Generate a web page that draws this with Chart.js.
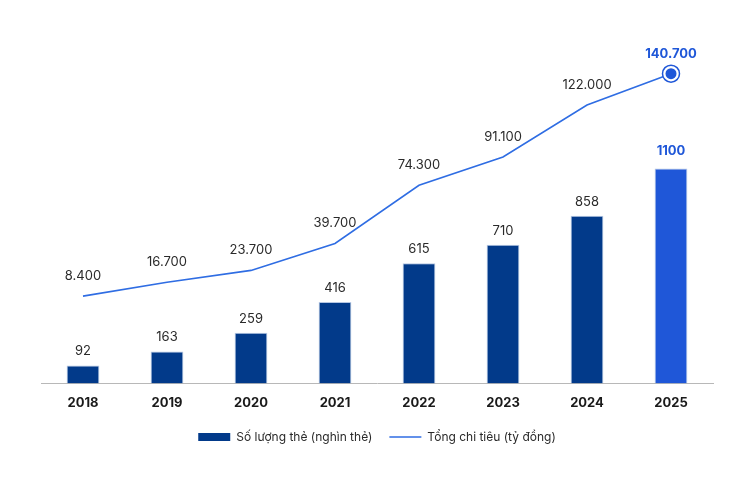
<!DOCTYPE html>
<html>
<head>
<meta charset="utf-8">
<script src="https://cdn.jsdelivr.net/npm/chart.js@4.4.1/dist/chart.umd.min.js"></script>
<style>
  html, body { margin: 0; padding: 0; background: #fff; }
  #wrap { width: 752px; height: 477px; }
</style>
</head>
<body>
<div id="wrap"><canvas id="chart"></canvas></div>
<script>
const years = ['2018', '2019', '2020', '2021', '2022', '2023', '2024', '2025'];
const cardCounts = [92, 163, 259, 416, 615, 710, 858, 1100];
const spending = [8.4, 16.7, 23.7, 39.7, 74.3, 91.1, 122, 140.7];

const NAVY = '#023a8a';
const BLUE = '#1f57d8';
const LINE = '#2f6de3';
const FONT = 'Inter, "Noto Sans", sans-serif';

// 8.4 -> "8.400", 140.7 -> "140.700"
function fmt(v) {
  return String(Math.round(v * 1000)).replace(/\B(?=(\d{3})+(?!\d))/g, '.');
}

const valueLabels = {
  id: 'valueLabels',
  afterDatasetsDraw(chart) {
    const ctx = chart.ctx;
    ctx.save();
    ctx.textAlign = 'center';
    ctx.textBaseline = 'middle';
    const last = years.length - 1;

    const bars = chart.getDatasetMeta(0).data;
    bars.forEach((el, i) => {
      const hi = i === last;
      ctx.font = (hi ? 'bold ' : '') + '13px ' + FONT;
      ctx.fillStyle = hi ? BLUE : '#2a2a2a';
      ctx.fillText(String(cardCounts[i]), el.x, el.y - (hi ? 17 : 14));
    });

    const pts = chart.getDatasetMeta(1).data;
    pts.forEach((el, i) => {
      const hi = i === last;
      ctx.font = (hi ? 'bold ' : '') + '13px ' + FONT;
      ctx.fillStyle = hi ? BLUE : '#2a2a2a';
      ctx.fillText(fmt(spending[i]), el.x, el.y - 20);
    });

    // highlighted end point
    const p = pts[last];
    ctx.beginPath();
    ctx.arc(p.x, p.y, 8.5, 0, Math.PI * 2);
    ctx.fillStyle = '#fff';
    ctx.fill();
    ctx.lineWidth = 1.5;
    ctx.strokeStyle = BLUE;
    ctx.stroke();
    ctx.beginPath();
    ctx.arc(p.x, p.y, 5.5, 0, Math.PI * 2);
    ctx.fillStyle = BLUE;
    ctx.fill();
    ctx.restore();
  }
};

new Chart(document.getElementById('chart'), {
  type: 'bar',
  data: {
    labels: years,
    datasets: [{
      label: 'Số lượng thẻ (nghìn thẻ)',
      data: cardCounts,
      backgroundColor: cardCounts.map((v, i) => i === years.length - 1 ? BLUE : NAVY),
      borderColor: 'rgba(150,175,215,0.7)',
      borderWidth: 1,
      borderSkipped: 'bottom',
      barPercentage: 0.39,
      categoryPercentage: 1,
      yAxisID: 'yBar'
    }, {
      type: 'line',
      label: 'Tổng chi tiêu (tỷ đồng)',
      data: spending,
      borderColor: LINE,
      backgroundColor: LINE,
      borderWidth: 1.6,
      pointRadius: 0,
      pointHoverRadius: 0,
      tension: 0,
      fill: false,
      yAxisID: 'yLine'
    }]
  },
  options: {
    responsive: true,
    maintainAspectRatio: false,
    animation: false,
    layout: { padding: { left: 41, right: 39, top: 20, bottom: 24 } },
    scales: {
      x: {
        grid: { display: false, drawTicks: false },
        border: { display: true, color: '#b8b8b8', width: 1 },
        ticks: {
          color: '#1a1a1a',
          padding: 12,
          font: { family: FONT, size: 13, weight: 'bold' }
        },
        afterFit(scale) { scale.height -= 9; }
      },
      yBar: { display: false, min: 0, max: 1860 },
      yLine: { display: false, min: -43.5, max: 172.6 }
    },
    plugins: {
      tooltip: { enabled: false },
      legend: {
        position: 'bottom',
        labels: {
          usePointStyle: true,
          pointStyleWidth: 32,
          boxHeight: 8,
          padding: 17,
          color: '#2a2a2a',
          font: { family: FONT, size: 12 },
          generateLabels(chart) {
            return [{
              text: 'Số lượng thẻ (nghìn thẻ)',
              fillStyle: NAVY, strokeStyle: NAVY, lineWidth: 0,
              pointStyle: 'rect', datasetIndex: 0, fontColor: '#2a2a2a'
            }, {
              text: 'Tổng chi tiêu (tỷ đồng)',
              fillStyle: LINE, strokeStyle: LINE, lineWidth: 1.6,
              pointStyle: 'line', datasetIndex: 1, fontColor: '#2a2a2a'
            }];
          }
        }
      }
    }
  },
  plugins: [valueLabels]
});
</script>
</body>
</html>
